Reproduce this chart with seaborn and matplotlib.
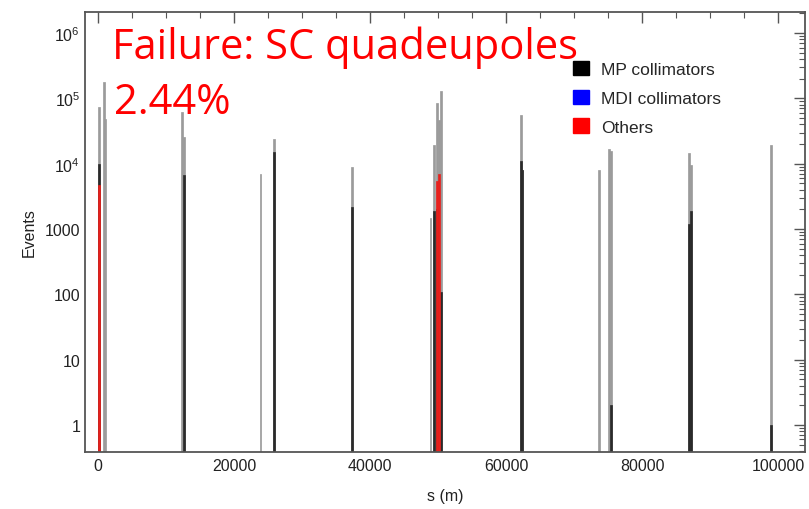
import numpy as np
import pandas as pd
import matplotlib
matplotlib.use("Agg")
import matplotlib.pyplot as plt
import seaborn as sns
from matplotlib.patches import Patch
from matplotlib.ticker import FixedLocator, FixedFormatter, LogLocator, NullFormatter, MultipleLocator

# ---- data ----
s_total = [150, 920, 1130, 12320, 12620, 23980, 25780, 37430, 48870, 49400, 49880,
           50130, 50380, 62030, 62280, 73640, 75190, 75440, 86840, 87090, 98980]
ev_total = [7.5e4, 1.8e5, 4.9e4, 6.2e4, 2.6e4, 7.0e3, 2.4e4, 8.9e3, 1.5e3, 1.9e4, 8.5e4,
            4.6e4, 1.3e5, 5.5e4, 8.1e3, 7.9e3, 1.7e4, 1.55e4, 1.45e4, 9.4e3, 1.95e4]

s_mp = [150, 12620, 25780, 37430, 49400, 49880, 50380, 62030, 62280, 75440, 86840, 87090, 98980]
ev_mp = [1.0e4, 6.6e3, 1.5e4, 2.2e3, 1.9e3, 2.0e3, 110, 1.1e4, 8.1e3, 2, 1.2e3, 1.9e3, 1]

s_others = [150, 49880, 50130]
ev_others = [4.8e3, 5.5e3, 7.0e3]

legend_labels = ["MP collimators", "MDI collimators", "Others"]
legend_colors = ["#000000", "#0000ff", "#ff0000"]

y_ticks = [1, 10, 100, 1000, 1e4, 1e5, 1e6]
y_ticklabels = ["1", "10", "100", "1000", r"$10^{4}$", r"$10^{5}$", r"$10^{6}$"]
x_ticks = [0, 20000, 40000, 60000, 80000, 100000]
x_ticklabels = ["0", "20000", "40000", "60000", "80000", "100000"]

title_line1 = "Failure: SC quadeupoles"
title_line2 = "2.44%"

# ---- style ----
sns.set_style("white")
plt.rcParams["font.family"] = ["Liberation Sans", "DejaVu Sans"]
plt.rcParams["mathtext.fontset"] = "custom"
plt.rcParams["mathtext.rm"] = "Liberation Sans"
plt.rcParams["mathtext.it"] = "Liberation Sans"

fig = plt.figure(figsize=(8.09, 5.10), dpi=100)
ax = fig.add_axes([85 / 809, 1 - 453 / 510, (805 - 85) / 809, (453 - 13) / 510])

df_total = pd.DataFrame({"s": s_total, "events": ev_total})
df_mp = pd.DataFrame({"s": s_mp, "events": ev_mp})
df_oth = pd.DataFrame({"s": s_others, "events": ev_others})

common = dict(x="s", weights="events", binwidth=250, binrange=(-2000, 104000),
              element="bars", fill=True, linewidth=0.5, alpha=1, ax=ax)
sns.histplot(data=df_total, color="#9b9b9b", edgecolor="#9b9b9b", **common)
sns.histplot(data=df_mp, color="#2a2a2a", edgecolor="#2a2a2a", **common)
sns.histplot(data=df_oth, color="#e8201c", edgecolor="#e8201c", **common)

ax.set_yscale("log")
ax.set_ylim(0.386, 2.1e6)
ax.set_xlim(-1900, 103900)

ax.yaxis.set_major_locator(FixedLocator(y_ticks))
ax.yaxis.set_major_formatter(FixedFormatter(y_ticklabels))
ax.yaxis.set_minor_locator(LogLocator(base=10, subs=np.arange(2, 10), numticks=20))
ax.yaxis.set_minor_formatter(NullFormatter())
ax.xaxis.set_major_locator(FixedLocator(x_ticks))
ax.xaxis.set_major_formatter(FixedFormatter(x_ticklabels))
ax.xaxis.set_minor_locator(MultipleLocator(5000))

ax.tick_params(which="both", direction="in", top=True, right=True, colors="#555555",
               labelcolor="#222222", labelsize=11.5)
ax.tick_params(which="major", length=8, width=1)
ax.tick_params(which="minor", length=4, width=0.8)
ax.tick_params(axis="x", pad=4)
for sp in ax.spines.values():
    sp.set_color("#555555")
    sp.set_linewidth(1.3)

ax.set_xlabel("s (m)", fontsize=11.5, color="#222222", labelpad=11)
ax.set_ylabel("Events", fontsize=11.5, color="#222222", labelpad=6)

handles = [Patch(facecolor=c, edgecolor=c) for c in legend_colors]
ax.legend(handles, legend_labels, loc="upper left",
          bbox_to_anchor=(573 / 809, 1 - 62 / 510), bbox_transform=fig.transFigure,
          frameon=False, fontsize=12.5, handlelength=0.9, handleheight=0.9,
          handletextpad=0.7, labelspacing=0.72, borderpad=0, borderaxespad=0)

title_kw = dict(color="#ff0000", fontsize=30, family=["Open Sans", "DejaVu Sans"],
                va="baseline", ha="left")
fig.text(112 / 809, 1 - 59 / 510, title_line1, **title_kw)
fig.text(114 / 809, 1 - 114 / 510, title_line2, **title_kw)

fig.savefig("out.png", dpi=100)
